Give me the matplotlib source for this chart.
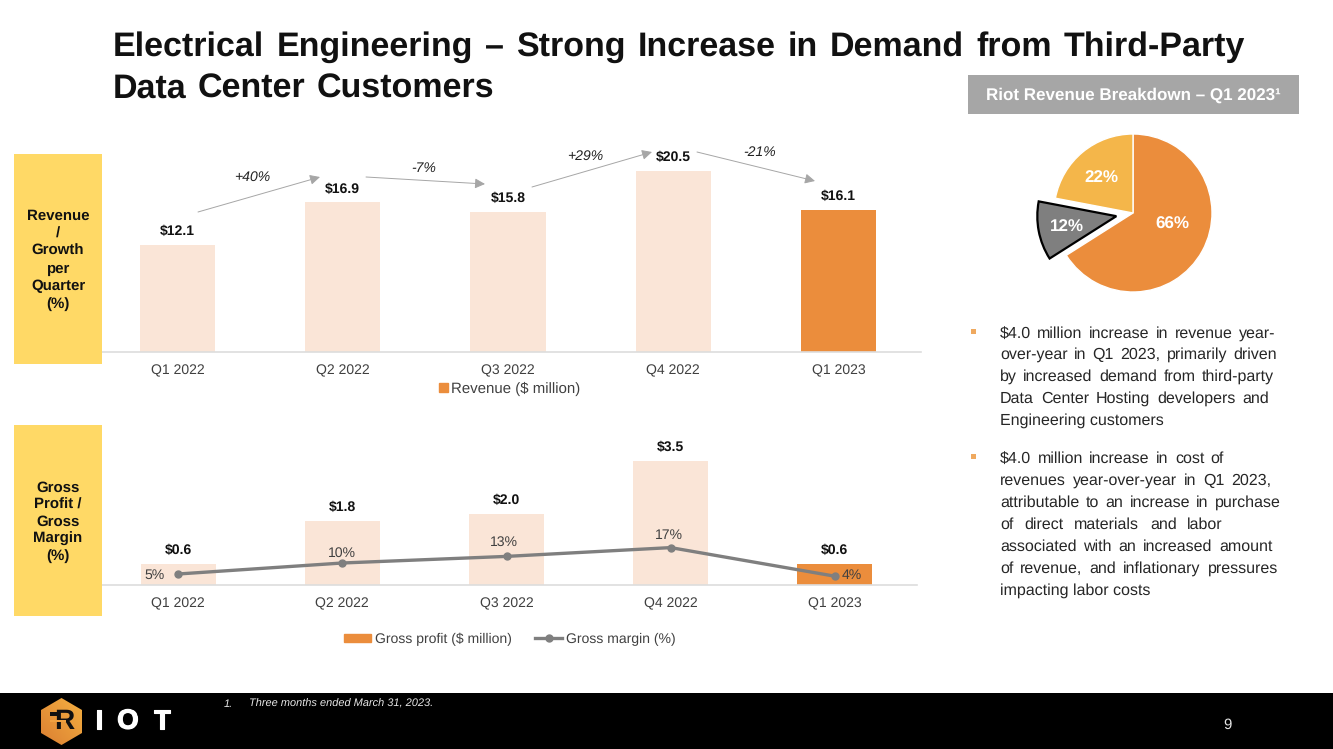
#!/usr/bin/env python3

import matplotlib
matplotlib.use('Agg')
import matplotlib.patheffects as pe
import matplotlib.pyplot as plt
import numpy as np
from matplotlib.colors import LinearSegmentedColormap
from matplotlib.lines import Line2D
from matplotlib.patches import Patch, Polygon, Rectangle

plt.rcParams['font.family'] = ['Liberation Sans', 'DejaVu Sans']
plt.rcParams['text.hinting'] = 'no_hinting'
plt.rcParams['text.hinting_factor'] = 1

W, H = 1333, 749

# Data
quarters = ['Q1 2022', 'Q2 2022', 'Q3 2022', 'Q4 2022', 'Q1 2023']
revenue = [12.1, 16.9, 15.8, 20.5, 16.1]
growth = ['+40%', '-7%', '+29%', '-21%']
gross_profit = [0.6, 1.8, 2.0, 3.5, 0.6]
gross_margin = [5, 10, 13, 17, 4]
pie_values = [66, 12, 22]

title_lines = [
    'Electrical Engineering – Strong Increase in Demand from Third-Party',
    'Data Center Customers',
]
bullet_1 = [
    '$4.0 million increase in revenue year-',
    'over-year in Q1 2023, primarily driven',
    'by increased demand from third-party',
    'Data Center Hosting developers and',
    'Engineering customers',
]
bullet_2 = [
    '$4.0 million increase in cost of',
    'revenues year-over-year in Q1 2023,',
    'attributable to an increase in purchase',
    'of direct materials and labor',
    'associated with an increased amount',
    'of revenue, and inflationary pressures',
    'impacting labor costs',
]

# Colours
LIGHT = '#FAE5D7'
ORANGE = '#EB8D3C'
GOLD = '#F4B64A'
GREY = '#7F7F7F'
YELLOW = '#FFD966'
ARROW = '#A6A6A6'
TICK = '#404040'


def px_axes(x0, y0, x1, y1, **kw):
    # axes from pixel box, y measured from the top
    return fig.add_axes([x0 / W, 1 - y1 / H, (x1 - x0) / W, (y1 - y0) / H], **kw)


def spread_text(ax, line, x0, x1, y, **kw):
    # place words one by one so the line runs from x0 to x1
    words = line.split(' ')
    renderer = fig.canvas.get_renderer()
    items = [ax.text(x0, y, w, va='baseline', ha='left', **kw) for w in words]
    widths = [t.get_window_extent(renderer).width for t in items]
    gap = (x1 - x0 - sum(widths)) / max(len(words) - 1, 1)
    x = x0
    for t, w in zip(items, widths):
        t.set_x(x)
        x += w + gap


fig = plt.figure(figsize=(W / 100, H / 100), dpi=100, facecolor='white')

# Revenue bars
ax1 = px_axes(95, 140, 921, 352)
x = np.arange(len(quarters))
bars1 = ax1.bar(x, revenue, width=0.454, color=[LIGHT] * 4 + [ORANGE])
ax1.bar_label(bars1, labels=[f'${v:.1f}' for v in revenue], padding=5,
              fontsize=9.8, fontweight='bold', color='#111111')
ax1.set_xlim(-0.5, 4.5)
ax1.set_ylim(0, 212 / 8.85)
ax1.set_xticks(x, quarters)
ax1.set_yticks([])
ax1.tick_params(axis='x', length=0, pad=8.5, labelsize=10, labelcolor=TICK)
for s in ['top', 'left', 'right']:
    ax1.spines[s].set_visible(False)
ax1.spines['bottom'].set_color('#DDDDDD')
ax1.spines['bottom'].set_linewidth(1.2)
ax1.patch.set_alpha(0)
ax1.legend(handles=[Patch(color=ORANGE, label='Revenue ($ million)')],
           loc='center', bbox_to_anchor=(415 / 826, -37 / 212), frameon=False,
           fontsize=10.7, handlelength=0.55, handleheight=0.55, handletextpad=0.25,
           labelcolor=TICK)

# Gross profit bars with margin line
ax2 = px_axes(96, 425, 917, 585)
bars2 = ax2.bar(x, gross_profit, width=0.456, color=[LIGHT] * 4 + [ORANGE])
ax2.bar_label(bars2, labels=[f'${v:.1f}' for v in gross_profit], padding=5,
              fontsize=9.8, fontweight='bold', color='#111111')
ax2.set_xlim(-0.5, 4.5)
ax2.set_ylim(0, 160 / 35.4)
ax2.set_xticks(x, quarters)
ax2.set_yticks([])
ax2.tick_params(axis='x', length=0, pad=9, labelsize=10, labelcolor=TICK)
for s in ['top', 'left', 'right']:
    ax2.spines[s].set_visible(False)
ax2.spines['bottom'].set_color('#DDDDDD')
ax2.spines['bottom'].set_linewidth(1.2)
ax2.patch.set_alpha(0)

ax2b = ax2.twinx()
ax2b.plot(x, gross_margin, color=GREY, lw=2.4, marker='o', ms=5)
ax2b.set_ylim(0, 160 / 2.2)
ax2b.set_yticks([])
for s in ax2b.spines.values():
    s.set_visible(False)
margin_offsets = [(-17, -1), (0, 7), (-2, 10), (-1, 9), (12, 1)]
for xi, m, off in zip(x, gross_margin, margin_offsets):
    ax2b.annotate(f'{m}%', (xi, m), xytext=off, textcoords='offset points',
                  ha='center', va='center', fontsize=10, color=TICK)
ax2.legend(handles=[Patch(color=ORANGE, label='Gross profit ($ million)'),
                    Line2D([], [], color=GREY, lw=2.4, marker='o', ms=5,
                           label='Gross margin (%)')],
           loc='center', bbox_to_anchor=(414 / 821, -54 / 160), frameon=False,
           ncol=2, fontsize=10, handlelength=1.95, handleheight=0.55,
           handletextpad=0.25, columnspacing=1.7, labelcolor=TICK)

# Pie
R = 79
ax3 = px_axes(1133 - 1.4 * R, 213 - 1.4 * R, 1133 + 1.4 * R, 213 + 1.4 * R)
wedges, _ = ax3.pie(pie_values, colors=[ORANGE, GREY, GOLD], startangle=90,
                    counterclock=False, explode=[0, 0.215, 0], radius=1)
wedges[1].set_edgecolor('black')
wedges[1].set_linewidth(1.6)
for i in (0, 2):
    wedges[i].set_edgecolor('white')
    wedges[i].set_linewidth(1.0)
ax3.set_xlim(-1.4, 1.4)
ax3.set_ylim(-1.4, 1.4)

# Everything placed on the slide itself, in pixels
ov = fig.add_axes([0, 0, 1, 1], zorder=10)
ov.set_xlim(0, W)
ov.set_ylim(H, 0)
ov.axis('off')

for line, y, x_end in zip(title_lines, [56, 98], [1245, 494]):
    spread_text(ov, line, 113, x_end, y, fontsize=24.6, fontweight='bold', color='#111111')

# side boxes
ov.add_patch(Rectangle((14, 154), 88, 210, color=YELLOW, lw=0))
ov.add_patch(Rectangle((14, 425), 88, 191, color=YELLOW, lw=0))
ov.text(58, 260, 'Revenue\n/\nGrowth\nper\nQuarter\n(%)', ha='center', va='center',
        fontsize=10.9, fontweight='bold', color='#111111', linespacing=1.32)
ov.text(58, 522, 'Gross\nProfit /\nGross\nMargin\n(%)', ha='center', va='center',
        fontsize=10.7, fontweight='bold', color='#111111', linespacing=1.28)

# growth arrows
arrow_ends = [((198, 212), (320, 177)), ((366, 177), (485, 184)),
              ((532, 187), (652, 152)), ((697, 152), (815, 181))]
growth_pos = [(252, 177), (424, 168), (585, 156), (760, 152)]
for (a, b), g, p in zip(arrow_ends, growth, growth_pos):
    ov.annotate('', xy=b, xytext=a, arrowprops=dict(
        arrowstyle='-|>', color=ARROW, lw=0.7, mutation_scale=15,
        shrinkA=0, shrinkB=0))
    ov.text(p[0], p[1], g, ha='center', va='center', fontsize=10,
            fontstyle='italic', color='#222222')

# revenue breakdown header
ov.add_patch(Rectangle((968, 75), 331, 39, color='#A6A6A6', lw=0))
ov.text(1133.5, 95.5, 'Riot Revenue Breakdown – Q1 2023¹', ha='center', va='center',
        fontsize=12.2, fontweight='bold', color='white')

# pie labels
for v, p in zip(pie_values, [(1172, 224), (1067, 227), (1101, 178)]):
    ov.text(p[0], p[1], f'{v}%', ha='center', va='center', fontsize=12,
            fontweight='bold', color='white')

# bullets
bullet_y = [[337.5, 359, 381, 403, 425], [463, 485, 507, 529, 551, 573, 595]]
bullet_end = [[1275, 1277, 1274, 1269, None],
              [1224, 1271, 1281, 1223, 1273, 1278, None]]
for lines, ys, ends in zip([bullet_1, bullet_2], bullet_y, bullet_end):
    ov.add_patch(Rectangle((971, ys[0] - 9), 5, 5, color='#EFA95F', lw=0))
    for line, y, end in zip(lines, ys, ends):
        if end is None:
            ov.text(1000, y, line, va='baseline', fontsize=11.8, color='#262626')
        else:
            spread_text(ov, line, 1000, end, y, fontsize=11.8, color='#262626')

# footer
ov.add_patch(Rectangle((0, 693), W, 56, color='black', lw=0))
ov.text(224, 704, '1.', va='center', fontsize=8, fontstyle='italic', color='#E6E6E6')
ov.text(249, 704, 'Three months ended March 31, 2023.', va='center', fontsize=8,
        fontstyle='italic', color='#E6E6E6')
ov.text(1227, 725, '9', ha='center', va='center', fontsize=11, color='#E6E6E6')

# logo
hex_pts = [(61.5, 698), (82, 710), (82, 733), (61.5, 745), (41, 733), (41, 710)]
hex_patch = Polygon(hex_pts, closed=True, transform=ov.transData, lw=0, fc='none')
ov.add_patch(hex_patch)
cmap = LinearSegmentedColormap.from_list('logo', ['#DB7F32', '#F5B041'])
grad = np.add.outer(np.linspace(1, 0, 40), np.linspace(0, 1, 40)) / 2
im = ov.imshow(grad, extent=(41, 82, 745, 698), cmap=cmap, aspect='auto', zorder=3)
im.set_clip_path(hex_patch)
ov.set_xlim(0, W)
ov.set_ylim(H, 0)
ov.text(64, 722, 'R', ha='center', va='center', fontsize=20, fontweight='bold',
        color='#111111', zorder=4)
ov.add_patch(Rectangle((50, 712), 10, 3.5, color='#111111', lw=0, zorder=4))
ov.add_patch(Rectangle((50, 720), 16, 1.6, color='#EFA040', lw=0, zorder=5))
for letter, lx in zip('IOT', [99.5, 128, 162]):
    ov.text(lx, 721.5, letter, ha='center', va='center', fontsize=20, fontweight='bold',
            color='white', zorder=4,
            path_effects=[pe.withStroke(linewidth=0.8, foreground='white')])

fig.savefig('out.png', dpi=100)
